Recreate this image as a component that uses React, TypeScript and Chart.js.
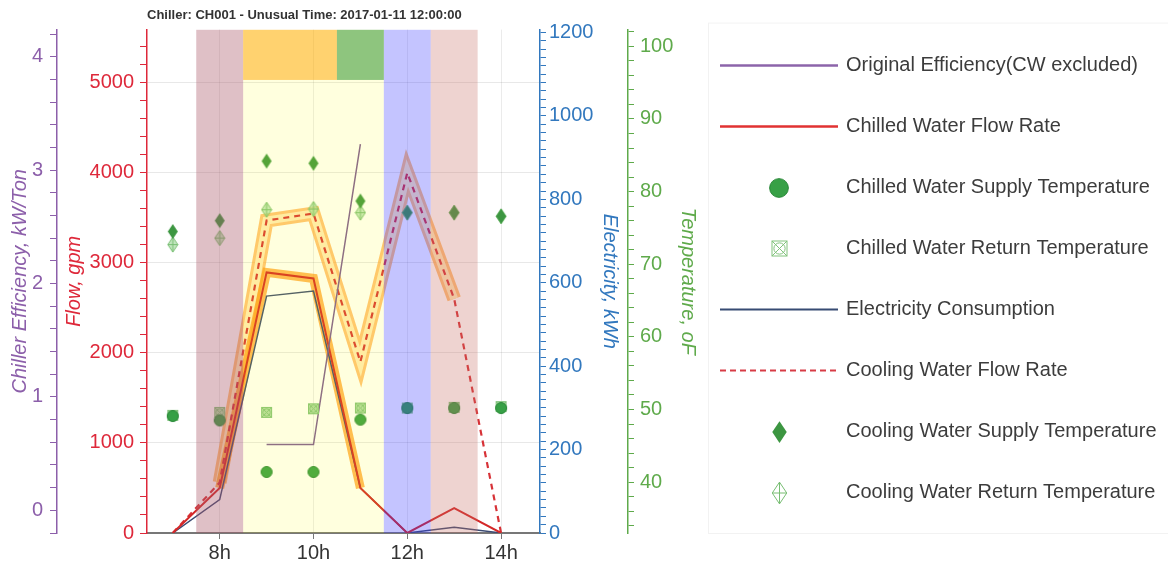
import React, { useEffect, useRef } from 'react';
import { Chart, registerables } from 'chart.js';

Chart.register(...registerables);

// ---------- data ----------
const hours = [7, 8, 9, 10, 11, 12, 13, 14];
const tickHours = [8, 10, 12, 14];
const efficiency = [null, null, 0.58, 0.58, 3.23, null, null, null];
const chilledFlow = [0, 500, 2894, 2827, 500, 0, 277, 0];
const electricity = [0, 80, 568, 580, 108, 0, 14, 0];
const coolingFlow = [0, 560, 3470, 3548, 1900, 4000, 2600, 0];
const chwSupplyTemp = [49.1, 48.5, 41.4, 41.4, 48.6, 50.2, 50.2, 50.2];
const chwReturnTemp = [49.2, 49.6, 49.6, 50.1, 50.2, 50.2, 50.3, 50.4];
const cwSupplyTemp = [74.5, 76.0, 84.2, 83.9, 78.7, 77.1, 77.1, 76.6];
const cwReturnTemp = [72.7, 73.6, 77.5, 77.6, 77.1, 77.1, 77.1, 76.6];
const chilledHighlight = [8, 11];
const coolingHighlight = [8, 13];
const bandFrom = [7.5, 8.5, 11.5, 12.5];
const bandTo = [8.5, 11.5, 12.5, 13.5];
const topBlockFrom = [8.5, 10.5];
const topBlockTo = [10.5, 11.5];
const titleText = 'Chiller: CH001 - Unusual Time: 2017-01-11 12:00:00';
const seriesLabels = [
  'Original Efficiency(CW excluded)',
  'Chilled Water Flow Rate',
  'Chilled Water Supply Temperature',
  'Chilled Water Return Temperature',
  'Electricity Consumption',
  'Cooling Water Flow Rate',
  'Cooling Water Supply Temperature',
  'Cooling Water Return Temperature',
];
// axis ranges / tick steps [min, max, minorStep, labelStep]
const flowAxis = [0, 5590, 200, 1000];
const effAxis = [-0.2, 4.24, 0.2, 1];
const elecAxis = [0, 1207, 20, 200];
const tempAxis = [33, 102.3, 2, 10];
const xRange = [6.45, 14.83];

// ---------- styles ----------
const FONT = '"Liberation Sans", Arial, Helvetica, sans-serif';
const PURPLE = 'rgb(140,95,170)';
const RED = 'rgb(222,40,58)';
const BLUE = 'rgb(50,120,190)';
const GREEN = 'rgb(95,170,75)';
const bandColors = [
  'rgba(170,90,105,0.38)',
  'rgba(255,255,0,0.13)',
  'rgba(60,60,255,0.30)',
  'rgba(200,110,100,0.30)',
];
const topBlockColors = ['rgba(255,165,0,0.5)', 'rgba(30,140,30,0.5)'];

const pts = (vals: (number | null)[]) => hours.map((h, i) => ({ x: h, y: vals[i] }));
const ranged = (vals: (number | null)[], r: number[]) =>
  hours.map((h, i) => ({ x: h, y: h >= r[0] && h <= r[1] ? vals[i] : null }));

const buildTicks = (axis: number[]) => (s: any) => {
  const [min, max, step] = axis;
  const t: { value: number }[] = [];
  const n0 = Math.ceil(min / step - 1e-9);
  const n1 = Math.floor(max / step + 1e-9);
  for (let n = n0; n <= n1; n++) t.push({ value: Math.round(n * step * 1000) / 1000 });
  s.ticks = t;
};
const labelEvery = (axis: number[]) => (v: any) => {
  const q = v / axis[3];
  return Math.abs(q - Math.round(q)) < 1e-6 ? String(Math.round(q) * axis[3]) : '';
};

function makeMarker(kind: string, s: number): HTMLCanvasElement {
  const c = document.createElement('canvas');
  let w: number, h: number;
  if (kind === 'circle') { w = h = Math.round(12 * s) + 2; }
  else if (kind === 'xsquare') { w = h = Math.round(11 * s) + 2; }
  else { w = Math.round(10 * s) + 2; h = Math.round(15 * s) + 2; }
  c.width = w; c.height = h;
  const g = c.getContext('2d')!;
  const cx = w / 2, cy = h / 2;
  if (kind === 'circle') {
    g.beginPath(); g.arc(cx, cy, 5.5 * s, 0, Math.PI * 2);
    g.fillStyle = 'rgb(55,160,70)'; g.fill();
    g.lineWidth = 1; g.strokeStyle = 'rgb(40,135,55)'; g.stroke();
  } else if (kind === 'xsquare') {
    const hs = 5 * s;
    if (s < 1.2) { g.fillStyle = 'rgba(170,215,160,0.9)'; g.fillRect(cx - hs, cy - hs, 2 * hs, 2 * hs); }
    g.strokeStyle = 'rgb(130,195,125)'; g.lineWidth = 1;
    g.strokeRect(cx - hs, cy - hs, 2 * hs, 2 * hs);
    g.beginPath(); g.moveTo(cx - hs, cy - hs); g.lineTo(cx + hs, cy + hs);
    g.moveTo(cx + hs, cy - hs); g.lineTo(cx - hs, cy + hs); g.stroke();
    g.beginPath(); g.arc(cx, cy, hs * 0.75, 0, Math.PI * 2); g.stroke();
  } else if (kind === 'diamond') {
    const hw = 5 * s, hh = 7.5 * s;
    g.beginPath(); g.moveTo(cx, cy - hh); g.lineTo(cx + hw, cy); g.lineTo(cx, cy + hh); g.lineTo(cx - hw, cy); g.closePath();
    g.fillStyle = 'rgb(60,150,65)'; g.fill();
  } else {
    const hw = 5 * s, hh = 7.5 * s;
    g.beginPath(); g.moveTo(cx, cy - hh); g.lineTo(cx + hw, cy); g.lineTo(cx, cy + hh); g.lineTo(cx - hw, cy); g.closePath();
    g.fillStyle = s < 1.2 ? 'rgba(170,220,165,0.7)' : 'rgba(255,255,255,1)'; g.fill();
    g.strokeStyle = 'rgb(120,190,115)'; g.lineWidth = 1; g.stroke();
    g.beginPath(); g.moveTo(cx, cy - hh); g.lineTo(cx, cy + hh); g.moveTo(cx - hw, cy); g.lineTo(cx + hw, cy); g.stroke();
  }
  return c;
}

const bandsPlugin = {
  id: 'bands',
  afterDatasetsDraw(chart: any) {
    const { ctx, chartArea: a, scales } = chart;
    const x = scales.x;
    ctx.save();
    ctx.beginPath(); ctx.rect(a.left, a.top, a.width, a.height); ctx.clip();
    bandFrom.forEach((f, i) => {
      const l = x.getPixelForValue(f), r = x.getPixelForValue(bandTo[i]);
      ctx.fillStyle = bandColors[i];
      ctx.fillRect(l, a.top, r - l, a.height);
    });
    topBlockFrom.forEach((f, i) => {
      const l = x.getPixelForValue(f), r = x.getPixelForValue(topBlockTo[i]);
      ctx.fillStyle = topBlockColors[i];
      ctx.fillRect(l, a.top, r - l, a.height * 0.1);
    });
    ctx.restore();
  },
};

const legendPlugin = {
  id: 'sideLegend',
  afterDraw(chart: any) {
    const { ctx, chartArea: a } = chart;
    const boxLeft = chart.width - 460;
    ctx.save();
    ctx.strokeStyle = 'rgba(0,0,0,0.05)';
    ctx.lineWidth = 1;
    ctx.strokeRect(boxLeft + 0.5, a.top - 7 + 0.5, chart.width, a.bottom - a.top + 7);
    const items = chart.data.datasets.filter((d: any) => d.legendDraw);
    items.forEach((d: any, i: number) => {
      const y = a.top + 36 + i * 61;
      const sx0 = boxLeft + 12, sx1 = boxLeft + 130;
      d.legendDraw(ctx, sx0, sx1, y);
      ctx.fillStyle = '#3c3c3c';
      ctx.font = '20px ' + FONT;
      ctx.textAlign = 'left';
      ctx.textBaseline = 'middle';
      ctx.fillText(d.label, boxLeft + 138, y);
    });
    ctx.restore();
  },
};

const lineSym = (color: string, width: number, dash: number[]) => (ctx: any, x0: number, x1: number, y: number) => {
  ctx.save();
  ctx.strokeStyle = color; ctx.lineWidth = width; ctx.setLineDash(dash);
  ctx.beginPath(); ctx.moveTo(x0, y); ctx.lineTo(x1, y); ctx.stroke();
  ctx.restore();
};
const imgSym = (img: HTMLCanvasElement) => (ctx: any, x0: number, x1: number, y: number) => {
  const cx = (x0 + x1) / 2;
  ctx.drawImage(img, Math.round(cx - img.width / 2), Math.round(y - img.height / 2));
};

const tickFont = { family: FONT, size: 20 };
const titleFont = { family: FONT, size: 20, style: 'italic' as const };

export default function App() {
  const ref = useRef<HTMLCanvasElement>(null);
  useEffect(() => {
    if (!ref.current) return;
    const mCircle = makeMarker('circle', 1);
    const mXSquare = makeMarker('xsquare', 1);
    const mDiamond = makeMarker('diamond', 1);
    const mXDiamond = makeMarker('xdiamond', 1);
    const lCircle = makeMarker('circle', 1.7);
    const lXSquare = makeMarker('xsquare', 1.5);
    const lDiamond = makeMarker('diamond', 1.45);
    const lXDiamond = makeMarker('xdiamond', 1.45);

    const lineBase = { pointRadius: 0, tension: 0, spanGaps: false, fill: false };
    const markerBase = { showLine: false, pointRadius: 6, pointHoverRadius: 6, yAxisID: 'temp' };

    const chart = new Chart(ref.current, {
      type: 'line',
      data: {
        datasets: [
          { ...lineBase, label: seriesLabels[0], data: pts(efficiency), yAxisID: 'eff', borderColor: 'rgb(125,90,150)', borderWidth: 1.5, order: 4, legendDraw: lineSym('rgb(140,100,170)', 2.5, []) },
          { ...lineBase, label: seriesLabels[1], data: pts(chilledFlow), yAxisID: 'flow', borderColor: 'rgb(212,40,40)', borderWidth: 2, order: 5, legendDraw: lineSym('rgb(225,50,50)', 2.5, []) },
          { ...markerBase, label: seriesLabels[2], data: pts(chwSupplyTemp), pointStyle: mCircle, order: 0, legendDraw: imgSym(lCircle) },
          { ...markerBase, label: seriesLabels[3], data: pts(chwReturnTemp), pointStyle: mXSquare, order: 1, legendDraw: imgSym(lXSquare) },
          { ...lineBase, label: seriesLabels[4], data: pts(electricity), yAxisID: 'elec', borderColor: 'rgb(60,75,115)', borderWidth: 1.5, order: 6, legendDraw: lineSym('rgb(55,75,115)', 2, []) },
          { ...lineBase, label: seriesLabels[5], data: pts(coolingFlow), yAxisID: 'flow', borderColor: 'rgb(215,50,55)', borderWidth: 2.2, borderDash: [6, 5], order: 7, legendDraw: lineSym('rgb(215,60,70)', 2, [6, 4]) },
          { ...markerBase, label: seriesLabels[6], data: pts(cwSupplyTemp), pointStyle: mDiamond, order: 2, legendDraw: imgSym(lDiamond) },
          { ...markerBase, label: seriesLabels[7], data: pts(cwReturnTemp), pointStyle: mXDiamond, order: 3, legendDraw: imgSym(lXDiamond) },
          { ...lineBase, label: 'chilled highlight', data: ranged(chilledFlow, chilledHighlight), yAxisID: 'flow', borderColor: 'rgba(255,150,20,0.7)', borderWidth: 9, order: 8 },
          { ...lineBase, label: 'cooling highlight inner', data: ranged(coolingFlow, coolingHighlight), yAxisID: 'flow', borderColor: 'rgba(255,236,190,0.95)', borderWidth: 8, order: 9 },
          { ...lineBase, label: 'cooling highlight outer', data: ranged(coolingFlow, coolingHighlight), yAxisID: 'flow', borderColor: 'rgba(255,160,50,0.65)', borderWidth: 14, order: 10 },
        ] as any,
      },
      options: {
        responsive: false,
        animation: false,
        devicePixelRatio: 1,
        events: [],
        layout: { padding: { left: 0, right: 466, top: 0, bottom: 0 } },
        plugins: {
          legend: { display: false },
          tooltip: { enabled: false },
          title: {
            display: true, text: titleText, align: 'start', fullSize: false,
            color: '#333', font: { family: FONT, size: 13, weight: 'bold' },
            padding: { top: 8, bottom: 6 },
          },
        },
        scales: {
          x: {
            type: 'linear', min: xRange[0], max: xRange[1],
            afterBuildTicks: (s: any) => { s.ticks = tickHours.map((v) => ({ value: v })); },
            afterFit: (s: any) => { s.height = 38; },
            ticks: { autoSkip: false, color: '#333', font: tickFont, padding: 2, maxRotation: 0, callback: (v: any) => v + 'h' },
            grid: { color: 'rgba(0,0,0,0.08)', tickColor: '#777', tickLength: 6 },
            border: { color: '#777', width: 2 },
          },
          flow: {
            type: 'linear', position: 'left', weight: 0, min: flowAxis[0], max: flowAxis[1],
            afterBuildTicks: buildTicks(flowAxis),
            afterFit: (s: any) => { s.width = 90; },
            ticks: { autoSkip: false, color: RED, font: tickFont, padding: 6, callback: labelEvery(flowAxis) },
            grid: {
              color: (c: any) => (c.tick && c.tick.value > 0 && labelEvery(flowAxis)(c.tick.value) !== '' ? 'rgba(0,0,0,0.09)' : 'rgba(0,0,0,0)'),
              tickColor: RED, tickLength: 7,
            },
            border: { color: RED, width: 1.5 },
            title: { display: true, text: 'Flow, gpm', color: RED, font: titleFont, padding: { top: 5, bottom: 0 } },
          },
          eff: {
            type: 'linear', position: 'left', weight: 1, min: effAxis[0], max: effAxis[1],
            afterBuildTicks: buildTicks(effAxis),
            afterFit: (s: any) => { s.width = 57; },
            ticks: { autoSkip: false, color: PURPLE, font: tickFont, padding: 7, callback: labelEvery(effAxis) },
            grid: { drawOnChartArea: false, color: PURPLE, tickColor: PURPLE, tickLength: 7 },
            border: { color: PURPLE, width: 1.5 },
            title: { display: true, text: 'Chiller Efficiency, kW/Ton', color: PURPLE, font: titleFont, padding: { top: 8, bottom: 0 } },
          },
          elec: {
            type: 'linear', position: 'right', weight: 0, min: elecAxis[0], max: elecAxis[1],
            afterBuildTicks: buildTicks(elecAxis),
            afterFit: (s: any) => { s.width = 88; },
            ticks: { autoSkip: false, color: BLUE, font: tickFont, padding: 3, callback: labelEvery(elecAxis) },
            grid: { drawOnChartArea: false, color: BLUE, tickColor: BLUE, tickLength: 6 },
            border: { color: BLUE, width: 1.5 },
            title: { display: true, text: 'Electricity, kWh', color: BLUE, font: titleFont, padding: { top: 6, bottom: 0 } },
          },
          temp: {
            type: 'linear', position: 'right', weight: 1, min: tempAxis[0], max: tempAxis[1],
            afterBuildTicks: buildTicks(tempAxis),
            afterFit: (s: any) => { s.width = 74; },
            ticks: { autoSkip: false, color: GREEN, font: tickFont, padding: 6, callback: labelEvery(tempAxis) },
            grid: { drawOnChartArea: false, color: GREEN, tickColor: GREEN, tickLength: 6 },
            border: { color: GREEN, width: 1.5 },
            title: { display: true, text: 'Temperature, oF', color: GREEN, font: titleFont, padding: { top: 2, bottom: 0 } },
          },
        },
      } as any,
      plugins: [bandsPlugin, legendPlugin],
    });
    return () => chart.destroy();
  }, []);

  return (
    <div style={{ position: 'fixed', left: 0, top: 0, width: 1168, height: 571, background: '#fff' }}>
      <canvas ref={ref} width={1168} height={571} style={{ display: 'block' }} />
    </div>
  );
}
